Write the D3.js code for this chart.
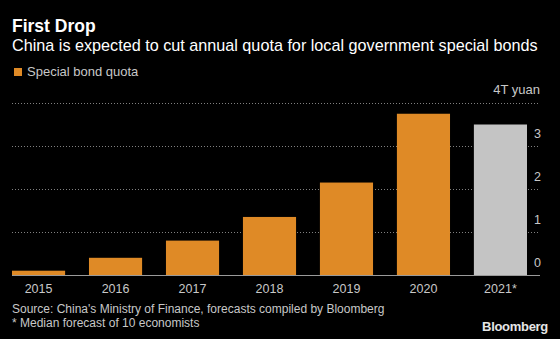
<!DOCTYPE html>
<html>
<head>
<meta charset="utf-8">
<script src="https://cdn.jsdelivr.net/npm/d3@7"></script>
<style>
  html, body { margin: 0; padding: 0; background: #000; }
  svg { display: block; font-family: "Liberation Sans", Arial, sans-serif; }
</style>
</head>
<body>
<div id="chart"></div>
<script>
// special bond quota, trillion yuan
const years = ["2015", "2016", "2017", "2018", "2019", "2020", "2021*"];
const quota = [0.1, 0.4, 0.8, 1.35, 2.15, 3.75, 3.5];
const forecastYears = ["2021*"];
const yTicks = [0, 1, 2, 3, 4];

const width = 560, height = 339;
const orange = "#df8a26", grey = "#c4c4c4", textGrey = "#c8c8c8";

const svg = d3.select("#chart").append("svg")
  .attr("width", width)
  .attr("height", height);

svg.append("rect").attr("width", width).attr("height", height).attr("fill", "#000");

/* header */
svg.append("text")
  .attr("x", 12).attr("y", 32)
  .attr("fill", "#fff")
  .attr("font-size", 17.5).attr("font-weight", "bold")
  .text("First Drop");

svg.append("text")
  .attr("x", 12).attr("y", 51)
  .attr("fill", "#fff")
  .attr("font-size", 16.2)
  .text("China is expected to cut annual quota for local government special bonds");

/* legend */
svg.append("rect")
  .attr("x", 14).attr("y", 68).attr("width", 8).attr("height", 8)
  .attr("fill", orange);
svg.append("text")
  .attr("x", 27).attr("y", 76)
  .attr("fill", textGrey)
  .attr("font-size", 13)
  .text("Special bond quota");

/* scales */
const x = d3.scaleBand()
  .domain(years)
  .range([12, 527])
  .paddingInner(0.31)
  .paddingOuter(0);

const y = d3.scaleLinear()
  .domain([0, 4])
  .range([275, 103]);

const gridLeft = 12, gridRight = 540;

/* dotted gridlines */
svg.append("g").attr("class", "grid")
  .selectAll("line")
  .data(yTicks.filter(d => d > 0))
  .join("line")
  .attr("x1", gridLeft).attr("x2", gridRight)
  .attr("y1", d => y(d) + 0.5).attr("y2", d => y(d) + 0.5)
  .attr("stroke", "#808080")
  .attr("stroke-width", 1)
  .attr("stroke-dasharray", "1,2");

/* bars */
svg.append("g").attr("class", "bars")
  .selectAll("rect")
  .data(years.map((yr, i) => ({ year: yr, value: quota[i] })))
  .join("rect")
  .attr("x", d => x(d.year))
  .attr("width", x.bandwidth())
  .attr("y", d => y(d.value))
  .attr("height", d => y(0) - y(d.value))
  .attr("fill", d => forecastYears.includes(d.year) ? grey : orange);

/* baseline */
svg.append("line")
  .attr("x1", gridLeft).attr("x2", gridRight)
  .attr("y1", y(0) + 0.5).attr("y2", y(0) + 0.5)
  .attr("stroke", "#9a9a9a")
  .attr("stroke-width", 1);

/* y axis labels on the right */
svg.append("g").attr("class", "y-labels")
  .selectAll("text")
  .data(yTicks.filter(d => d < 4))
  .join("text")
  .attr("x", 534)
  .attr("y", d => y(d) - 8)
  .attr("fill", textGrey)
  .attr("font-size", 12.5)
  .text(d => d);

svg.append("text")
  .attr("x", 540).attr("y", 94)
  .attr("text-anchor", "end")
  .attr("fill", textGrey)
  .attr("font-size", 13)
  .text("4T yuan");

/* x axis */
const xAxis = svg.append("g")
  .attr("transform", `translate(0,${y(0)})`)
  .call(d3.axisBottom(x).tickSize(0).tickPadding(9));
xAxis.select(".domain").remove();
xAxis.selectAll("text")
  .attr("fill", textGrey)
  .attr("font-size", 12.5)
  .attr("font-family", "Liberation Sans, Arial, sans-serif");

/* footer */
svg.append("text")
  .attr("x", 12).attr("y", 313)
  .attr("fill", textGrey)
  .attr("font-size", 12)
  .text("Source: China's Ministry of Finance, forecasts compiled by Bloomberg");
svg.append("text")
  .attr("x", 12).attr("y", 327)
  .attr("fill", textGrey)
  .attr("font-size", 12)
  .text("* Median forecast of 10 economists");

svg.append("text")
  .attr("x", 548).attr("y", 331)
  .attr("text-anchor", "end")
  .attr("fill", "#e6e6e6")
  .attr("font-size", 13).attr("font-weight", "bold")
  .attr("letter-spacing", -0.3)
  .text("Bloomberg");
</script>
</body>
</html>
